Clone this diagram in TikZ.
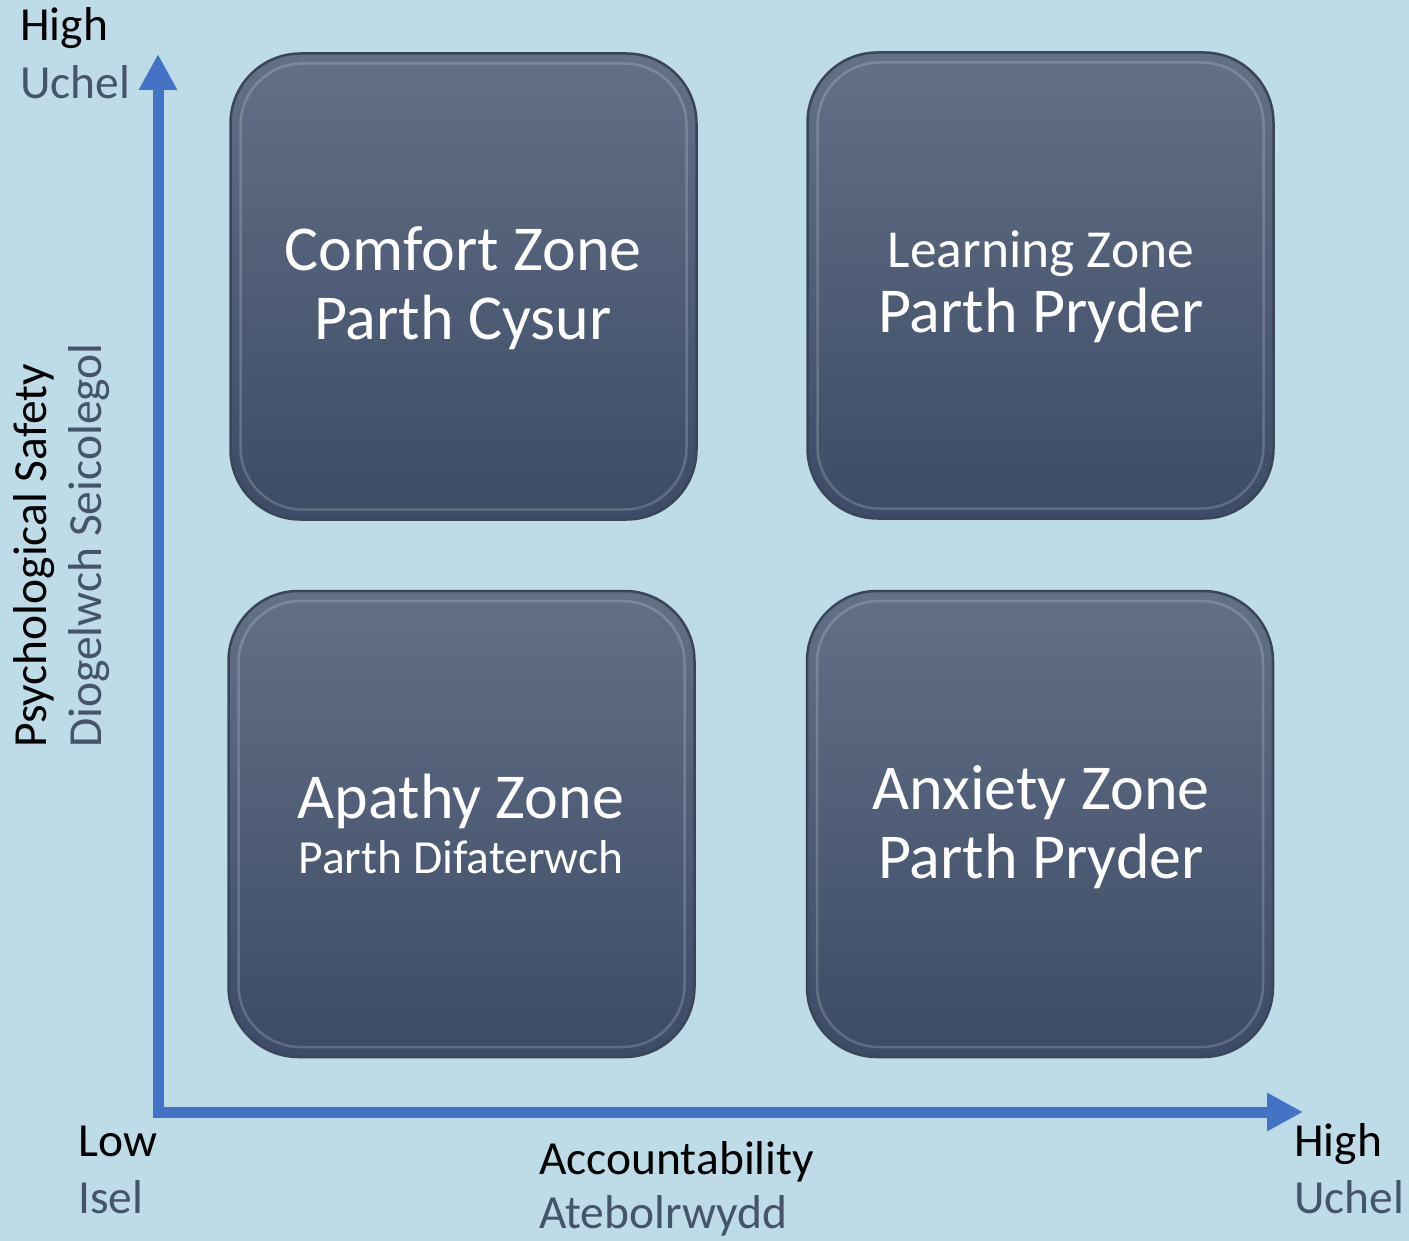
\documentclass[tikz,border=0pt]{standalone}
\usepackage{fontspec}
\setmainfont{Carlito}
\usetikzlibrary{arrows.meta}
\definecolor{bg}{HTML}{BEDCE7}
\definecolor{axisblue}{HTML}{4472C4}
\definecolor{graytxt}{HTML}{44546A}
\definecolor{boxtop}{HTML}{627186}
\definecolor{boxbot}{HTML}{3C4B66}
\definecolor{boxedge}{HTML}{3A4658}
\tikzset{
  zone/.style={rectangle, rounded corners=70pt, minimum width=466pt, minimum height=466pt,
    top color=boxtop, bottom color=boxbot, draw=boxedge, line width=2.5pt, inner sep=0pt},
  bevel/.style={rectangle, rounded corners=62pt, minimum width=446pt, minimum height=446pt,
    draw=white, draw opacity=0.18, line width=2.5pt, inner sep=0pt},
  bigtxt/.style={anchor=base, text=white, font=\fontsize{64}{72}\selectfont, inner sep=0pt},
  midtxt/.style={anchor=base, text=white, font=\fontsize{53.5}{60}\selectfont, inner sep=0pt},
  smltxt/.style={anchor=base, text=white, font=\fontsize{47.5}{54}\selectfont, inner sep=0pt},
  lbl/.style={anchor=base west, text=black, font=\fontsize{47.5}{54}\selectfont, inner sep=0pt},
  lblw/.style={anchor=base west, text=graytxt, font=\fontsize{47.5}{54}\selectfont, inner sep=0pt},
  axis/.style={draw=axisblue, line width=11pt, line join=miter,
    {Triangle[length=36pt,width=36pt]}-{Triangle[length=36pt,width=36pt]}}
}
\begin{document}
\begin{tikzpicture}[x=1pt,y=-1pt]
\fill[bg] (0,0) rectangle (1409,1241);
\useasboundingbox (0,0) rectangle (1409,1241);

% zones
\node[zone] (tl) at (463.5,286.5) {};
\node[bevel] (tlb) at (463.5,286.5) {};
\node[zone] (tr) at (1040.5,285.5) {};
\node[bevel] (trb) at (1040.5,285.5) {};
\node[zone] (bl) at (461.5,824) {};
\node[bevel] (blb) at (461.5,824) {};
\node[zone] (br) at (1040,824) {};
\node[bevel] (brb) at (1040,824) {};

% zone texts
\node[bigtxt] (t1a) at (463,271) {Comfort Zone};
\node[bigtxt] (t1b) at (463,340) {Parth Cysur};
\node[midtxt] (t2a) at (1041,268) {Learning Zone};
\node[bigtxt] (t2b) at (1041,333) {Parth Pryder};
\node[bigtxt] (t3a) at (461,818) {Apathy Zone};
\node[smltxt] (t3b) at (461,873) {Parth Difaterwch};
\node[bigtxt] (t4a) at (1041,809) {Anxiety Zone};
\node[bigtxt] (t4b) at (1041,878) {Parth Pryder};

% axes
\coordinate (ytop) at (158,54);
\coordinate (orig) at (158,1112);
\coordinate (xend) at (1303,1112);
\draw[axis] (ytop) -- (orig) -- (xend);

% axis labels
\node[lbl] (hy) at (20,41) {High};
\node[lblw] (uy) at (20,99) {Uchel};
\node[lbl] (lo) at (78,1156) {Low};
\node[lblw] (is) at (78,1213) {Isel};
\node[lbl] (acc) at (539,1174) {Accountability};
\node[lblw] (ate) at (539,1228) {Atebolrwydd};
\node[lbl] (hx) at (1294,1156) {High};
\node[lblw] (ux) at (1294,1213) {Uchel};
\node[lbl, rotate=90] (ps) at (46,748) {Psychological Safety};
\node[lblw, rotate=90] (ds) at (101,748) {Diogelwch Seicolegol};
\end{tikzpicture}
\end{document}
